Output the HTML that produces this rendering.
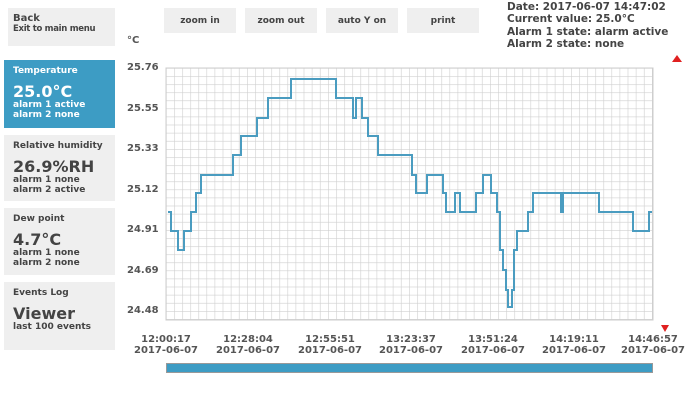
<!DOCTYPE html><html><head><style>
body{margin:0;width:700px;height:406px;background:#fff;font-family:"DejaVu Sans","Liberation Sans",sans-serif;position:relative;overflow:hidden;color:#444}
.b{position:absolute;background:#efefef;box-sizing:border-box;padding:6px 9px;font-weight:bold;font-size:9px;line-height:10px;white-space:nowrap}
.t{position:absolute;background:#efefef;font-size:9px;font-weight:bold;display:flex;align-items:center;justify-content:center}
.big{font-size:16px;line-height:16px;margin-top:8px}
.l{position:absolute;font-size:10px;font-weight:bold;color:#555}
</style></head><body>
<div class="b" style="left:8px;top:8px;width:107px;height:38px;font-size:10px;padding:6px 5px">Back<br><span style="font-size:8.5px;letter-spacing:-0.3px">Exit to main menu</span></div>
<div class="b" style="left:4px;top:60px;width:111px;height:68px;background:#3d9cc4;color:#fff">Temperature<div class="big">25.0°C</div>alarm 1 active<br>alarm 2 none</div>
<div class="b" style="left:4px;top:135px;width:111px;height:66px">Relative humidity<div class="big">26.9%RH</div>alarm 1 none<br>alarm 2 active</div>
<div class="b" style="left:4px;top:208px;width:111px;height:67px">Dew point<div class="big">4.7°C</div>alarm 1 none<br>alarm 2 none</div>
<div class="b" style="left:4px;top:282px;width:111px;height:68px">Events Log<div class="big">Viewer</div>last 100 events</div>
<div class="t" style="left:164px;top:8px;width:72px;height:25px">zoom in</div>
<div class="t" style="left:245px;top:8px;width:72px;height:25px">zoom out</div>
<div class="t" style="left:326px;top:8px;width:72px;height:25px">auto Y on</div>
<div class="t" style="left:407px;top:8px;width:72px;height:25px">print</div>
<div style="position:absolute;left:507px;top:1px;font-size:10.5px;line-height:12.3px;font-weight:bold;color:#444">Date: 2017-06-07 14:47:02<br>Current value: 25.0°C<br>Alarm 1 state: alarm active<br>Alarm 2 state: none</div>
<div class="l" style="left:127px;top:35px">°C</div>
<div class="l" style="left:127px;top:62px">25.76</div>
<div class="l" style="left:127px;top:103px">25.55</div>
<div class="l" style="left:127px;top:143px">25.33</div>
<div class="l" style="left:127px;top:184px">25.12</div>
<div class="l" style="left:127px;top:224px">24.91</div>
<div class="l" style="left:127px;top:265px">24.69</div>
<div class="l" style="left:127px;top:305px">24.48</div>
<svg style="position:absolute;left:0;top:0" width="700" height="406">
<defs><pattern id="g" x="166" y="68" width="8.1" height="8.1" patternUnits="userSpaceOnUse"><path d="M0 0H8.1M0 0V8.1" stroke="#cfcfcf" stroke-width="1.2" fill="none"/></pattern></defs>
<rect x="166" y="68" width="487" height="252" fill="url(#g)" stroke="#ccc"/>
<path fill="none" stroke="#4a9cc0" stroke-width="2" d="M168 212H171V231H178V250H184V231H191V212H196V193H201V175H233V155H241V136H257V118H268V98H291V79H336V98H353V118H356V98H360V98H362V118H368V136H378V155H412V175H416V193H427V175H443V193H446V212H455V193H460V212H476V193H483V175H491V193H497V212H500V250H503V270H506V290H508V307H512V290H514V250H517V231H528V212H533V193H561V212H563V193H566V193H599V212H633V231H649V212H652"/>
<polygon points="672,62 682,62 677,55" fill="#e02020"/>
<polygon points="661,325 669,325 665,332" fill="#e02020"/>
<rect x="166.5" y="363.5" width="486" height="9" fill="#3d9cc4" stroke="#999"/>
<g font-size="10" font-weight="bold" fill="#555" text-anchor="middle" font-family="DejaVu Sans,sans-serif">
<text x="166" y="342">12:00:17</text><text x="166" y="353">2017-06-07</text>
<text x="248" y="342">12:28:04</text><text x="248" y="353">2017-06-07</text>
<text x="330" y="342">12:55:51</text><text x="330" y="353">2017-06-07</text>
<text x="411" y="342">13:23:37</text><text x="411" y="353">2017-06-07</text>
<text x="493" y="342">13:51:24</text><text x="493" y="353">2017-06-07</text>
<text x="574" y="342">14:19:11</text><text x="574" y="353">2017-06-07</text>
<text x="653" y="342">14:46:57</text><text x="653" y="353">2017-06-07</text>
</g></svg>
</body></html>
